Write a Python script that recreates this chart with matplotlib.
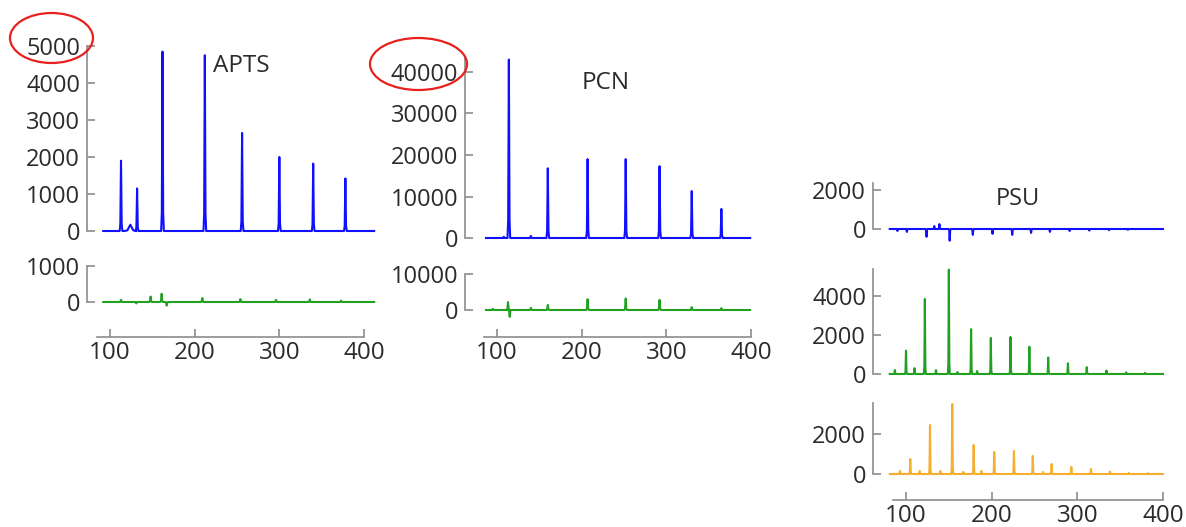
import matplotlib
matplotlib.use("Agg")
import matplotlib.pyplot as plt
from matplotlib.patches import Ellipse
import numpy as np

# peak positions / heights
apts_top_x = [113, 124, 132, 162, 212, 256, 300, 340, 378]
apts_top_y = [1900, 170, 1150, 4850, 4750, 2650, 2000, 1820, 1420]
apts_top_w = [1.6, 7, 1.6, 1.6, 1.6, 1.6, 1.6, 1.6, 1.6]
apts_bot_x = [113, 131, 148, 161, 167, 209, 254, 296, 336, 373]
apts_bot_y = [60, -40, 150, 230, -100, 110, 80, 60, 70, 40]

pcn_top_x = [108, 114, 140, 160, 207, 252, 292, 330, 365]
pcn_top_y = [300, 43000, 500, 16800, 19000, 19000, 17300, 11300, 7000]
pcn_bot_x = [95, 113, 115, 140, 160, 207, 252, 292, 330, 365]
pcn_bot_y = [300, 2200, -1900, 600, 1400, 3000, 3200, 2800, 800, 500]

psu_blue_x = [90, 101, 124, 133, 139, 151, 178, 201, 224, 246, 268, 291, 314, 337, 359]
psu_blue_y = [-100, -150, -400, 150, 250, -600, -300, -250, -300, -200, -150, -100, -80, -60, -40]
psu_green_x = [87, 100, 110, 122, 135, 150, 160, 176, 183, 199, 222, 244, 266, 289, 311, 334, 357, 379]
psu_green_y = [200, 1200, 300, 3850, 200, 5350, 100, 2300, 150, 1850, 1900, 1400, 850, 550, 350, 180, 80, 60]
psu_orange_x = [93, 105, 116, 128, 140, 154, 167, 179, 188, 203, 226, 248, 260, 270, 293, 316, 338, 360, 382]
psu_orange_y = [150, 750, 150, 2450, 150, 3500, 100, 1450, 150, 1100, 1150, 900, 100, 500, 350, 250, 120, 50, 40]

W, H = 1186, 527
BLUE = "#1010ff"
GREEN = "#22a022"
ORANGE = "#f5ae30"
GREY = "#8c8c8c"
TXT = "#2b2b2b"

plt.rcParams['font.family'] = ['Open Sans', 'DejaVu Sans']

fig = plt.figure(figsize=(W / 100, H / 100), dpi=100)


def trace(xs, hs, start, end, hw=1.6):
    if np.isscalar(hw):
        hw = [hw] * len(xs)
    px, py = [start], [0]
    for x, h, w in zip(xs, hs, hw):
        px += [x - w, x - 0.5 * w, x, x + 0.5 * w, x + w]
        py += [0, 0.1 * h, h, 0.1 * h, 0]
    px.append(end)
    py.append(0)
    return px, py


def panel(xlim, xa, xb, ylim, ya, yb):
    # xa/xb, ya/yb: (value, pixel) pairs used to place the axes
    sx = (xb[1] - xa[1]) / (xb[0] - xa[0])
    sy = (yb[1] - ya[1]) / (yb[0] - ya[0])
    left = xa[1] + (xlim[0] - xa[0]) * sx
    right = xa[1] + (xlim[1] - xa[0]) * sx
    top = ya[1] + (ylim[1] - ya[0]) * sy
    bottom = ya[1] + (ylim[0] - ya[0]) * sy
    ax = fig.add_axes([left / W, 1 - bottom / H, (right - left) / W, (bottom - top) / H])
    ax.set_xlim(xlim)
    ax.set_ylim(ylim)
    ax.patch.set_visible(False)
    for s in ax.spines.values():
        s.set_visible(False)
    return ax


def yaxis(ax, ticks, bounds):
    ax.spines['left'].set_visible(True)
    ax.spines['left'].set_color(GREY)
    ax.spines['left'].set_linewidth(1.2)
    ax.spines['left'].set_bounds(*bounds)
    ax.set_yticks(ticks)
    ax.set_yticklabels([str(t) for t in ticks])
    ax.tick_params(axis='y', direction='in', length=6, width=1.2, color=GREY,
                   labelsize=17, labelcolor=TXT, pad=5)
    ax.set_xticks([])


def xaxis(col, ypx):
    ax = panel(col[0], col[1], col[2], (0, 1), (0, ypx), (1, ypx - 10))
    ax.spines['bottom'].set_visible(True)
    ax.spines['bottom'].set_color(GREY)
    ax.spines['bottom'].set_linewidth(1.2)
    ax.spines['bottom'].set_bounds(85, 400)
    ax.set_xticks([100, 200, 300, 400])
    ax.tick_params(axis='x', direction='in', length=6, width=1.2, color=GREY,
                   labelsize=17.5, labelcolor=TXT, pad=3)
    ax.set_yticks([])


col_apts = ((72.8, 416), (100, 110), (400, 364))
col_pcn = ((62.2, 402), (100, 497), (400, 751))
col_psu = ((61.5, 402), (100, 906), (400, 1163))

# APTS
ax = panel(*col_apts, (-300, 5300), (0, 231), (5000, 46))
ax.plot(*trace(apts_top_x, apts_top_y, 92, 412, apts_top_w), color=BLUE, lw=1.5)
yaxis(ax, [0, 1000, 2000, 3000, 4000, 5000], (0, 5000))
ax = panel(*col_apts, (-300, 1100), (0, 302), (1000, 266))
ax.plot(*trace(apts_bot_x, apts_bot_y, 92, 412), color=GREEN, lw=1.5)
yaxis(ax, [0, 1000], (0, 1000))
xaxis(col_apts, 337)

# PCN
ax = panel(*col_pcn, (-3000, 45000), (0, 238), (40000, 72))
ax.plot(*trace(pcn_top_x, pcn_top_y, 87, 399), color=BLUE, lw=1.5)
yaxis(ax, [0, 10000, 20000, 30000, 40000], (0, 43500))
ax = panel(*col_pcn, (-3000, 11000), (0, 310), (10000, 274))
ax.plot(*trace(pcn_bot_x, pcn_bot_y, 87, 399), color=GREEN, lw=1.5)
yaxis(ax, [0, 10000], (0, 10000))
xaxis(col_pcn, 337)

# PSU
ax = panel(*col_psu, (-800, 2500), (0, 229), (2000, 190))
ax.plot(*trace(psu_blue_x, psu_blue_y, 81, 400, hw=1.2), color=BLUE, lw=1.5)
yaxis(ax, [0, 2000], (0, 2350))
ax = panel(*col_psu, (-300, 5600), (0, 374), (4000, 296))
ax.plot(*trace(psu_green_x, psu_green_y, 81, 400, hw=1.2), color=GREEN, lw=1.5)
yaxis(ax, [0, 2000, 4000], (0, 5400))
ax = panel(*col_psu, (-300, 3700), (0, 474), (2000, 434))
ax.plot(*trace(psu_orange_x, psu_orange_y, 81, 400, hw=1.2), color=ORANGE, lw=1.5)
yaxis(ax, [0, 2000], (0, 3550))
xaxis(col_psu, 500)

# titles
fig.text(213 / W, 1 - 66 / H, "APTS", ha='left', va='center', fontsize=17.5, color=TXT)
fig.text(606 / W, 1 - 83 / H, "PCN", ha='center', va='center', fontsize=17.5, color=TXT)
fig.text(1018 / W, 1 - 199 / H, "PSU", ha='center', va='center', fontsize=17, color=TXT)

# red highlight ellipses
over = fig.add_axes([0, 0, 1, 1], zorder=10)
over.set_xlim(0, W)
over.set_ylim(H, 0)
over.axis('off')
over.add_patch(Ellipse((51.5, 38), 83, 50, fill=False, edgecolor='#e8201e', lw=1.6))
over.add_patch(Ellipse((418.5, 64), 97, 52, fill=False, edgecolor='#e8201e', lw=1.6))

fig.savefig("out.png", dpi=100)
